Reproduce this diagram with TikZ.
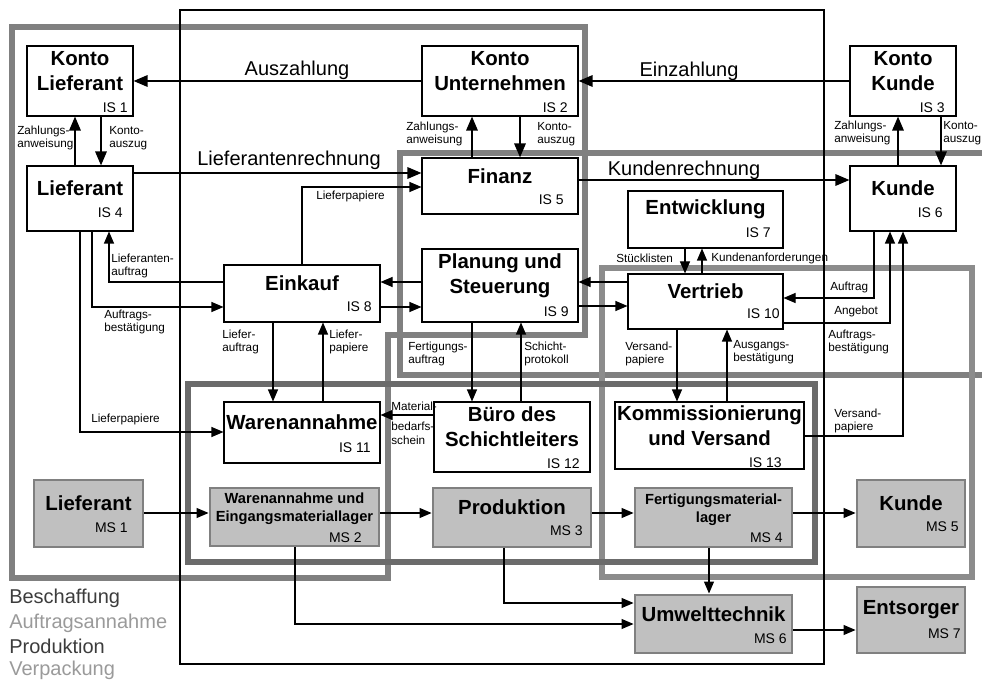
\documentclass[tikz,border=0pt]{standalone}
\usepackage{fontspec}
\setmainfont{Liberation Sans}
\usetikzlibrary{arrows.meta,fit}

\definecolor{msfill}{HTML}{C0C0C0}
\definecolor{msedge}{HTML}{808080}
\definecolor{zonemid}{HTML}{808080}
\definecolor{zonelight}{HTML}{8C8C8C}
\definecolor{zonedark}{HTML}{6B6B6B}
\definecolor{legdark}{HTML}{3C3C3C}
\definecolor{leglight}{HTML}{9A9A9A}

\begin{document}
\begin{tikzpicture}[x=0.75pt, y=-0.75pt,
    isbox/.style={draw, line width=0.8pt, fill=white, inner sep=0pt},
    msbox/.style={draw=msedge, line width=2.2pt, fill=msfill, inner sep=0pt},
    head/.style={anchor=center, yshift=7.5pt, align=center, inner sep=0pt, font=\bfseries\fontsize{15.3}{18.5}\selectfont},
    mshead/.style={anchor=center, yshift=6pt, align=center, inner sep=0pt, font=\bfseries\fontsize{11}{13.5}\selectfont},
    tag/.style={anchor=base east, inner sep=0pt, font=\fontsize{10.5}{12}\selectfont},
    lbl/.style={anchor=west, align=left, inner sep=0pt, font=\fontsize{8.8}{10.2}\selectfont},
    flowlbl/.style={anchor=base, inner sep=0pt, font=\fontsize{15}{18}\selectfont},
    legend/.style={anchor=base west, inner sep=0pt, font=\fontsize{15}{18}\selectfont},
    zone/.style={line width=5pt},
    strong/.style={line width=1.5pt, -{Triangle[length=10.5pt,width=8.5pt]}},
    flow/.style={line width=0.8pt, -{Triangle[length=9pt,width=7.5pt]}}
]
    \useasboundingbox (0,0) rectangle (982,684);

    % Bereiche
    \draw[zone, zonemid] (12,27) -- (585,27) -- (585,335) -- (388,335) -- (388,578) -- (12,578) -- cycle;
    \draw[zone, zonemid] (982,153) -- (400,153) -- (400,375) -- (982,375);
    \draw[zone, zonelight] (602,268) rectangle (972,577);
    \draw[zone, zonedark] (188,384) rectangle (815,562);
    \draw[line width=2.2pt] (180,10) rectangle (824,664);

    % Informationssysteme
    \node[isbox, fit={(27,46) (133,116)}, label={[head]center:{Konto\\Lieferant}}] (is1) {};
    \node[isbox, fit={(422,46) (578,116)}, label={[head]center:{Konto\\Unternehmen}}] (is2) {};
    \node[isbox, fit={(850,46) (956,116)}, label={[head]center:{Konto\\Kunde}}] (is3) {};
    \node[isbox, fit={(27,166) (133,231)}, label={[head]center:Lieferant}] (is4) {};
    \node[isbox, fit={(422,158) (578,214)}, label={[head]center:Finanz}] (is5) {};
    \node[isbox, fit={(850,166) (956,231)}, label={[head]center:Kunde}] (is6) {};
    \node[isbox, fit={(628,191) (783,248)}, label={[head]center:Entwicklung}] (is7) {};
    \node[isbox, fit={(224,265) (380,322)}, label={[head]center:Einkauf}] (is8) {};
    \node[isbox, fit={(422,249) (578,322)}, label={[head]center:{Planung und\\Steuerung}}] (is9) {};
    \node[isbox, fit={(628,274) (783,329)}, label={[head]center:Vertrieb}] (is10) {};
    \node[isbox, fit={(224,402) (380,463)}, label={[head]center:Warenannahme}] (is11) {};
    \node[isbox, fit={(434,402) (590,472)}, label={[head]center:{Büro des\\Schichtleiters}}] (is12) {};
    \node[isbox, fit={(615,402) (804,469)}, label={[head]center:{Kommissionierung\\und Versand}}] (is13) {};

    \node[tag] (is1t) at (128,113) {IS 1};
    \node[tag] (is2t) at (568,113) {IS 2};
    \node[tag] (is3t) at (945,113) {IS 3};
    \node[tag] (is4t) at (123,218) {IS 4};
    \node[tag] (is5t) at (564,205) {IS 5};
    \node[tag] (is6t) at (943,218) {IS 6};
    \node[tag] (is7t) at (771,238) {IS 7};
    \node[tag] (is8t) at (372,312) {IS 8};
    \node[tag] (is9t) at (569,317) {IS 9};
    \node[tag] (is10t) at (780,319) {IS 10};
    \node[tag] (is11t) at (371,452) {IS 11};
    \node[tag] (is12t) at (580,468) {IS 12};
    \node[tag] (is13t) at (782,467) {IS 13};

    % Materialsysteme
    \node[msbox, fit={(34,480) (143,547)}, label={[head]center:Lieferant}] (ms1) {};
    \node[msbox, fit={(210,488) (379,546)}, label={[mshead]center:{Warenannahme und\\Eingangsmateriallager}}] (ms2) {};
    \node[msbox, fit={(433,488) (591,547)}, label={[head]center:Produktion}] (ms3) {};
    \node[msbox, fit={(635,488) (792,547)}, label={[mshead]center:{Fertigungsmaterial-\\lager}}] (ms4) {};
    \node[msbox, fit={(857,480) (965,547)}, label={[head]center:Kunde}] (ms5) {};
    \node[msbox, fit={(635,595) (792,653)}, label={[head]center:Umwelttechnik}] (ms6) {};
    \node[msbox, fit={(857,587) (965,653)}, label={[head]center:Entsorger}] (ms7) {};

    \node[tag] (ms1t) at (128,532) {MS 1};
    \node[tag] (ms2t) at (362,542) {MS 2};
    \node[tag] (ms3t) at (583,535) {MS 3};
    \node[tag] (ms4t) at (783,542) {MS 4};
    \node[tag] (ms5t) at (959,531) {MS 5};
    \node[tag] (ms6t) at (787,643) {MS 6};
    \node[tag] (ms7t) at (961,638) {MS 7};

    % Zahlungsfluss
    \draw[strong] (is2.west) -- (is1.east);
    \draw[strong] (is3.west) -- (is2.east);
    \draw[strong] (75,0 |- is4.north) -- (75,0 |- is1.south);
    \draw[strong] (101,0 |- is1.south) -- (101,0 |- is4.north);
    \draw[strong] (472,0 |- is5.north) -- (472,0 |- is2.south);
    \draw[strong] (520,0 |- is2.south) -- (520,0 |- is5.north);
    \draw[strong] (898,0 |- is6.north) -- (898,0 |- is3.south);
    \draw[strong] (941,0 |- is3.south) -- (941,0 |- is6.north);
    \draw[strong] (is4.east |- 0,173) -- (is5.west |- 0,173);
    \draw[strong] (is5.east |- 0,180) -- (is6.west |- 0,180);

    \node[flowlbl] (ausz) at (297,76) {Auszahlung};
    \node[flowlbl] (einz) at (689,77) {Einzahlung};
    \node[flowlbl] (lrech) at (289,166) {Lieferantenrechnung};
    \node[flowlbl] (krech) at (684,176) {Kundenrechnung};
    \node[lbl] (za1) at (17,138) {Zahlungs-\\anweisung};
    \node[lbl] (ka1) at (109,138) {Konto-\\auszug};
    \node[lbl] (za2) at (406,134) {Zahlungs-\\anweisung};
    \node[lbl] (ka2) at (537,134) {Konto-\\auszug};
    \node[lbl] (za3) at (834,133) {Zahlungs-\\anweisung};
    \node[lbl] (ka3) at (943,133) {Konto-\\auszug};

    % Informationsfluss
    \draw[flow] (302,0 |- is8.north) |- (is5.west |- 0,187);
    \draw[flow] (is8.west |- 0,282) -| (109,0 |- is4.south);
    \draw[flow] (92,0 |- is4.south) |- (is8.west |- 0,307);
    \draw[flow] (80,0 |- is4.south) |- (is11.west |- 0,432);
    \draw[flow] (is9.west |- 0,282) -- (is8.east |- 0,282);
    \draw[flow] (is8.east |- 0,307) -- (is9.west |- 0,307);
    \draw[flow] (is10.west |- 0,282) -- (is9.east |- 0,282);
    \draw[flow] (is9.east |- 0,306) -- (is10.west |- 0,306);
    \draw[flow] (685,0 |- is7.south) -- (685,0 |- is10.north);
    \draw[flow] (702,0 |- is10.north) -- (702,0 |- is7.south);
    \draw[flow] (874,0 |- is6.south) |- (is10.east |- 0,298);
    \draw[flow] (is10.east |- 0,323) -| (890,0 |- is6.south);
    \draw[flow] (is13.east |- 0,436) -| (903,0 |- is6.south);
    \draw[flow] (677,0 |- is10.south) -- (677,0 |- is13.north);
    \draw[flow] (727,0 |- is13.north) -- (727,0 |- is10.south);
    \draw[flow] (472,0 |- is9.south) -- (472,0 |- is12.north);
    \draw[flow] (521,0 |- is12.north) -- (521,0 |- is9.south);
    \draw[flow] (273,0 |- is8.south) -- (273,0 |- is11.north);
    \draw[flow] (323,0 |- is11.north) -- (323,0 |- is8.south);
    \draw[flow] (is12.west |- 0,415) -- (is11.east |- 0,415);

    \node[lbl] (lfp1) at (316,196) {Lieferpapiere};
    \node[lbl] (lfa) at (111,266) {Lieferanten-\\auftrag};
    \node[lbl] (abs1) at (104,322) {Auftrags-\\bestätigung};
    \node[lbl] (lfp2) at (91,419) {Lieferpapiere};
    \node[lbl] (lfauf) at (222,342) {Liefer-\\auftrag};
    \node[lbl] (lfpap) at (329,342) {Liefer-\\papiere};
    \node[lbl] (fa) at (408,354) {Fertigungs-\\auftrag};
    \node[lbl] (sp) at (524,354) {Schicht-\\protokoll};
    \node[lbl] (vp1) at (625,354) {Versand-\\papiere};
    \node[lbl] (ab) at (733,352) {Ausgangs-\\bestätigung};
    \node[lbl] (sl) at (616,258) {Stücklisten};
    \node[lbl] (kaf) at (711,258) {Kundenanforderungen};
    \node[lbl] (auf) at (830,287) {Auftrag};
    \node[lbl] (ang) at (834,311) {Angebot};
    \node[lbl] (abs2) at (828,342) {Auftrags-\\bestätigung};
    \node[lbl] (vp2) at (834,421) {Versand-\\papiere};
    \node[lbl] (mbs) at (391,423) {Material-\\[5pt]bedarfs-\\schein};

    % Materialfluss
    \draw[flow] (ms1.east |- 0,513) -- (ms2.west |- 0,513);
    \draw[flow] (ms2.east |- 0,513) -- (ms3.west |- 0,513);
    \draw[flow] (ms3.east |- 0,513) -- (ms4.west |- 0,513);
    \draw[flow] (ms4.east |- 0,513) -- (ms5.west |- 0,513);
    \draw[flow] (709,0 |- ms4.south) -- (709,0 |- ms6.north);
    \draw[flow] (504,0 |- ms3.south) |- (ms6.west |- 0,603);
    \draw[flow] (295,0 |- ms2.south) |- (ms6.west |- 0,624);
    \draw[flow] (ms6.east |- 0,630) -- (ms7.west |- 0,630);

    % Legende
    \node[legend, text=legdark] (lg1) at (9,603) {Beschaffung};
    \node[legend, text=leglight] (lg2) at (9,628) {Auftragsannahme};
    \node[legend, text=legdark] (lg3) at (9,653) {Produktion};
    \node[legend, text=leglight] (lg4) at (9,675) {Verpackung};
\end{tikzpicture}
\end{document}
